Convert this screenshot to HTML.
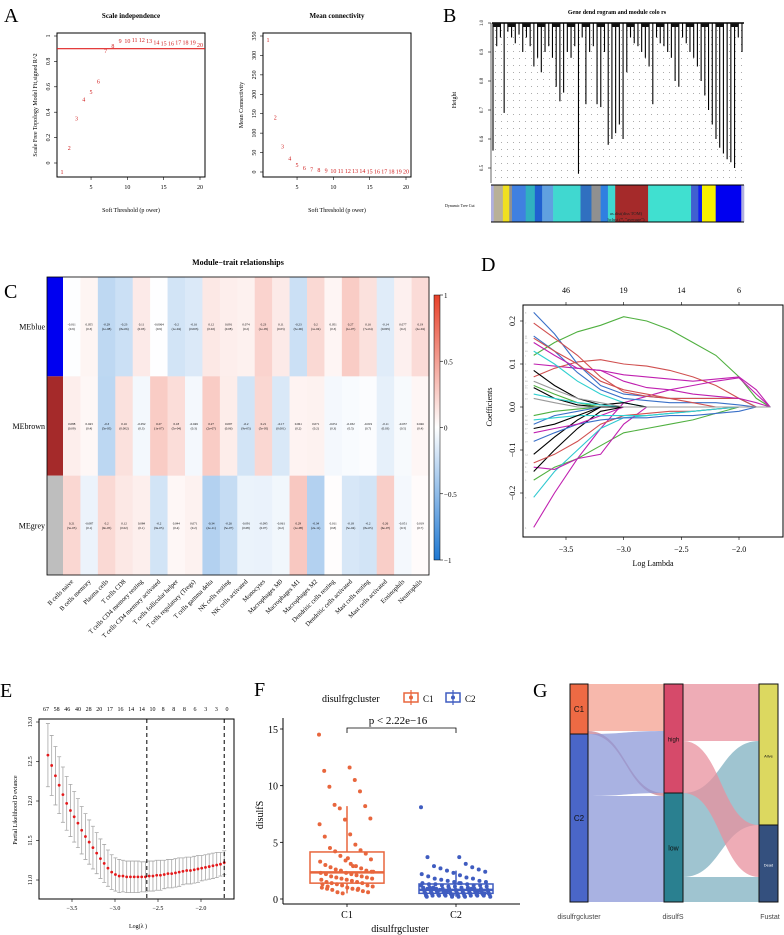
<!DOCTYPE html>
<html><head><meta charset="utf-8"><style>
body{margin:0;background:#fff;width:784px;height:935px;overflow:hidden}
svg{display:block;font-family:"Liberation Serif",serif}
.s{font-family:"Liberation Sans",sans-serif}
</style></head><body>
<svg id="fig" width="784" height="935" viewBox="0 0 784 935" xmlns="http://www.w3.org/2000/svg">
<defs>
<linearGradient id="cb" x1="0" y1="0" x2="0" y2="1">
<stop offset="0" stop-color="#e8412a"/><stop offset="0.5" stop-color="#ffffff"/><stop offset="1" stop-color="#1f78d2"/>
</linearGradient>
</defs>
<g id="A"></g>
<g id="B"></g>
<g id="C"></g>
<g id="D"></g>
<g id="E"></g>
<g id="F"></g>
<g id="G"></g>
</svg>
<script>
// ---- Panel A data
const powers=[1,2,3,4,5,6,7,8,9,10,11,12,13,14,15,16,17,18,19,20];
const r2Values=[-0.07,0.12,0.35,0.5,0.56,0.64,0.88,0.92,0.96,0.96,0.97,0.97,0.96,0.95,0.94,0.94,0.95,0.95,0.95,0.93];
const connValues=[340,140,65,35,18,10,7,5,4,3,2.5,2,2,2,1.5,1.5,1,1,1,1];
const r2Ticks=[0,0.2,0.4,0.6,0.8,1.0];
const connTicks=[0,50,100,150,200,250,300,350];
const powerTicks=[5,10,15,20];
// ---- Panel B data
const leafHeights=[0.56,0.92,0.95,0.69,0.97,0.95,0.93,0.96,0.9,0.95,0.92,0.85,0.88,0.83,0.9,0.92,0.88,0.78,0.73,0.76,0.9,0.88,0.92,0.48,0.95,0.72,0.9,0.92,0.72,0.71,0.9,0.58,0.6,0.62,0.65,0.6,0.83,0.95,0.93,0.92,0.9,0.88,0.85,0.72,0.95,0.93,0.92,0.9,0.88,0.8,0.78,0.95,0.93,0.9,0.88,0.85,0.8,0.75,0.7,0.65,0.6,0.57,0.55,0.53,0.52,0.5,0.95,0.9];
const moduleColors=["#b0b0e0","#b8b098","#f0e020","#909090","#4080e0","#30b0c0","#2060d0","#60a0e0","#40d8d0","#3070c0","#909090","#3080e0","#40d8d0","#a52a2a","#40e0d0","#4060d0","#1020f0","#f8f000","#0000f0","#b0b0e0"];
const moduleWidths=[3,10,7,3,15,10,8,12,30,12,10,8,8,36,47,8,4,15,28,3];
const heightTicks=[0.5,0.6,0.7,0.8,0.9,1.0];
// ---- Panel C data
const traits=["B cells naive","B cells memory","Plasma cells","T cells CD8","T cells CD4 memory resting","T cells CD4 memory activated","T cells follicular helper","T cells regulatory (Tregs)","T cells gamma delta","NK cells resting","NK cells activated","Monocytes","Macrophages M0","Macrophages M1","Macrophages M2","Dendritic cells resting","Dendritic cells activated","Mast cells resting","Mast cells activated","Eosinophils","Neutrophils"];
const modules=["MEblue","MEbrown","MEgrey"];
const moduleStrip=["#0000f0","#a52a2a","#bebebe"];
const corBlue=[-0.011,0.055,-0.29,-0.23,0.11,-0.0064,-0.2,-0.16,0.12,0.091,0.074,0.23,0.11,-0.23,0.2,0.051,0.27,0.16,-0.14,0.077,0.19];
const corBrown=[0.088,0.043,-0.3,0.16,-0.052,0.27,0.18,-0.049,0.27,0.097,-0.2,0.21,-0.17,0.061,0.071,-0.051,-0.032,-0.019,-0.11,-0.037,0.046];
const corGrey=[0.21,-0.087,0.2,0.12,0.084,-0.2,0.044,0.071,-0.34,-0.26,-0.091,-0.095,-0.061,0.29,-0.34,0.011,-0.18,-0.2,0.26,-0.051,0.019];
const pBlue=["0.9","0.3","1e-08","8e-06","0.03","0.9","1e-04","0.003","0.02","0.08","0.2","1e-05","0.03","5e-06","1e-04","0.3","1e-07","7e-04","0.005","0.2","2e-04"];
const pBrown=["0.09","0.4","5e-05","0.002","0.3","1e-07","5e-04","0.3","2e-07","0.06","9e-05","5e-05","0.001","0.2","0.2","0.3","0.5","0.7","0.03","0.5","0.4"];
const pGrey=["5e-05","0.1","9e-05","0.02","0.1","9e-05","0.4","0.2","2e-11","5e-07","0.08","0.07","0.2","1e-08","2e-11","0.8","5e-04","8e-05","6e-07","0.3","0.7"];
const cbTicks=[1,0.5,0,-0.5,-1];
// ---- Panel D data
const lambdaGrid=[-3.78,-3.6,-3.4,-3.2,-3.0,-2.8,-2.6,-2.4,-2.2,-2.0,-1.85,-1.73];
const coefSeries=[
[0.12,0.15,0.175,0.19,0.21,0.2,0.18,0.15,0.12,0.07,0.02,0],
[0.1,0.095,0.09,0.085,0.075,0.07,0.065,0.06,0.065,0.07,0.04,0],
[0.07,0.09,0.105,0.11,0.1,0.095,0.085,0.07,0.05,0.02,0,0],
[-0.28,-0.2,-0.12,-0.05,0.01,0.025,0.04,0.05,0.06,0.068,0.03,0],
[-0.17,-0.14,-0.12,-0.09,-0.06,-0.05,-0.04,-0.03,-0.015,0,0,0],
[0.22,0.17,0.1,0.05,0.03,0.025,0.02,0.02,0.02,0.02,0,0],
[0.195,0.16,0.12,0.07,0.035,0.025,0.02,0.02,0.02,0.02,0,0],
[-0.21,-0.15,-0.1,-0.05,-0.025,-0.02,-0.015,-0.01,-0.005,0,0,0],
[-0.14,-0.145,-0.12,-0.11,-0.04,0,0,0,0,0,0,0],
[0.13,0.1,0.06,0.03,0.01,0,0,0,0,0,0,0],
[0.165,0.13,0.08,0.04,0.02,0.015,0.01,0.01,0.01,0.005,0,0],
[0.085,0.05,0.02,0.005,0.01,0,0,0,0,0,0,0],
[-0.15,-0.1,-0.05,-0.01,0,0,0,0,0,0,0,0],
[-0.11,-0.07,-0.03,0,0,0,0,0,0,0,0,0],
[0.045,0.02,0.005,0,0,0,0,0,0,0,0,0],
[-0.13,-0.11,-0.08,-0.04,-0.02,-0.015,-0.01,-0.01,-0.005,0,0,0],
[0.05,0.03,0.01,0,0,0,0,0,0,0,0,0],
[0.15,0.12,0.09,0.085,0.06,0.045,0.04,0.03,0.025,0.02,0.01,0],
[-0.08,-0.06,-0.04,-0.03,-0.025,-0.025,-0.02,-0.02,-0.015,-0.01,0,0],
[0.03,0.02,0.01,0.005,0,0,0,0,0,0,0,0],
[0.16,0.13,0.1,0.06,0.04,0.03,0.02,0.01,0,0,0,0],
[-0.02,-0.01,-0.005,0,0,0,0,0,0,0,0,0],
[0.02,0.01,0,0,0,0,0,0,0,0,0,0],
[-0.04,-0.02,-0.01,0,0,0,0,0,0,0,0,0],
[-0.06,-0.05,-0.04,-0.02,0,0,0,0,0,0,0,0],
[-0.03,-0.025,-0.02,-0.02,-0.02,-0.02,-0.015,-0.01,-0.005,0,0,0],
[-0.05,-0.04,-0.02,0,0,0,0,0,0,0,0,0],
[0.06,0.04,0.02,0.01,0,0,0,0,0,0,0,0]];
const coefColors=["#50b040","#c020b0","#d05050","#c020b0","#50b040","#3a70c8","#d05050","#30c8d0","#c020b0","#30d0d0","#3a70c8","#000000","#000000","#000000","#000000","#d05050","#50b040","#c020b0","#3a70c8","#30d0d0","#d05050","#50b040","#9a9a9a","#3a70c8","#c020b0","#30d0d0","#000000","#9a9a9a"];
const dTopLabels=["46","19","14","6"];
const dTopPos=[-3.5,-3.0,-2.5,-2.0];
const dXTicks=[-3.5,-3.0,-2.5,-2.0];
const dYTicks=[0.2,0.1,0.0,-0.1,-0.2];
// ---- Panel E data
const eMean=[12.58,12.45,12.32,12.20,12.08,11.97,11.88,11.80,11.72,11.63,11.55,11.48,11.41,11.34,11.27,11.21,11.15,11.10,11.07,11.05,11.05,11.04,11.04,11.04,11.04,11.04,11.04,11.05,11.05,11.06,11.06,11.07,11.08,11.08,11.09,11.10,11.11,11.12,11.12,11.13,11.14,11.15,11.16,11.17,11.18,11.19,11.20,11.22];
const eSE=[0.40,0.38,0.37,0.36,0.35,0.34,0.33,0.32,0.31,0.30,0.29,0.28,0.27,0.26,0.25,0.24,0.23,0.22,0.21,0.21,0.20,0.20,0.20,0.20,0.20,0.19,0.19,0.19,0.19,0.19,0.19,0.18,0.18,0.18,0.18,0.18,0.17,0.17,0.17,0.17,0.17,0.16,0.16,0.16,0.16,0.16,0.15,0.15];
const eTopLabels=["67","58","46","40","28","20","17","16","14","14","10","8","8","8","6","3","3","0"];
const eXTicks=[-3.5,-3.0,-2.5,-2.0];
const eYTicks=[11.0,11.5,12.0,12.5,13.0];
const eLambdaMin=-2.63, eLambda1se=-1.73;
// ---- Panel F data
const c1Values=[14.5,11.6,11.3,10.5,9.9,9.5,8.3,8.2,8.0,7.1,7.0,6.6,5.7,5.5,4.8,4.5,4.3,4.2,4.0,3.8,3.5,3.4,3.3,3.1,3.0,2.9,2.8,2.7,2.6,2.5,2.5,2.4,2.3,2.3,2.2,2.2,2.1,2.0,2.0,1.9,1.9,1.8,1.8,1.7,1.7,1.6,1.5,1.5,1.4,1.4,1.3,1.2,1.2,1.1,1.0,1.0,0.9,0.9,0.8,0.8,0.7,0.6,0.6,0.5,2.4,3.6,1.3,2.9,1.1,0.9];
const c2Values=[8.1,3.7,3.7,3.1,2.9,2.8,2.7,2.6,2.5,2.4,2.3,2.2,2.1,2.0,1.9,1.8,1.8,1.7,1.6,1.6,1.5,1.5,1.4,1.4,1.3,1.3,1.3,1.2,1.2,1.2,1.1,1.1,1.1,1.0,1.0,1.0,1.0,0.9,0.9,0.9,0.9,0.9,0.8,0.8,0.8,0.8,0.8,0.8,0.7,0.7,0.7,0.7,0.7,0.7,0.7,0.6,0.6,0.6,0.6,0.6,0.6,0.6,0.5,0.5,0.5,0.5,0.5,0.5,0.5,0.5,0.4,0.4,0.4,0.4,0.4,0.4,0.4,0.3,0.3,0.3,0.3,0.3,0.3,0.3,0.3,0.2,0.2,0.2,0.2,0.2,1.0,0.9,0.8,0.7,0.6,0.5,0.4,1.2,1.4,0.9];
const fYTicks=[0,5,10,15];
const fGroups=["C1","C2"];
// ---- Panel G data
const gC1toHigh=47,gC1toLow=3,gC2toHigh=62,gC2toLow=106;
const gHighAlive=57,gHighDead=52,gLowAlive=84,gLowDead=25;

const NS="http://www.w3.org/2000/svg";
function el(parent,tag,attrs,text){const e=document.createElementNS(NS,tag);for(const k in attrs)e.setAttribute(k,attrs[k]);if(text!==undefined)e.textContent=text;parent.appendChild(e);return e;}
function lin(d0,d1,r0,r1){return v=>r0+(v-d0)*(r1-r0)/(d1-d0);}

// ================= Panel A
(function(){
const g=document.getElementById('A');
let t=el(g,'text',{x:4,y:22,'font-size':20},'A');


function panel(x0,x1,y0,y1,vals,ticks,title,ylab,line){
 const sx=lin(1,20,x0+5,x1-5);
 const sy2= ticks[ticks.length-1]===350?lin(0,350,172,36):lin(0,1,163,36);
 let tt=el(g,'text',{x:(x0+x1)/2,y:18,'font-size':7,'font-weight':'bold','text-anchor':'middle'},title);
 
 let b=el(g,'rect',{x:x0,y:y0,width:x1-x0,height:y1-y0,fill:'none',stroke:'#000','stroke-width':1});
 
 ticks.forEach(v=>{const y=sy2(v);el(g,'line',{x1:x0-3,x2:x0,y1:y,y2:y,stroke:'#000','stroke-width':0.6});
  let l=el(g,'text',{x:x0-7,y:y,'font-size':6,'text-anchor':'middle',transform:`rotate(-90 ${x0-7} ${y})`},String(v));
  });
 powerTicks.forEach(v=>{const x=sx(v);el(g,'line',{x1:x,x2:x,y1:y1,y2:y1+3,stroke:'#000','stroke-width':0.6});
  let l=el(g,'text',{x:x,y:y1+12,'font-size':6,'text-anchor':'middle'},String(v));
  });
 let xl=el(g,'text',{x:(x0+x1)/2,y:212,'font-size':6,'text-anchor':'middle'},'Soft Threshold (p  ower)');
 
 let yl=el(g,'text',{x:x0-20,y:(y0+y1)/2,'font-size':6,'text-anchor':'middle',transform:`rotate(-90 ${x0-20} ${(y0+y1)/2})`},ylab);
 
 if(line!==undefined){let rl=el(g,'line',{x1:x0,x2:x1,y1:sy2(line),y2:sy2(line),stroke:'#e02020','stroke-width':1.2});
  }
 vals.forEach((v,i)=>{let p=el(g,'text',{x:sx(powers[i]),y:sy2(v)+2,'font-size':6,fill:'#d02020','text-anchor':'middle'},String(powers[i]));
  });
}
panel(57,205,33,177,r2Values,r2Ticks,'Scale independence','Scale Free    Topology Model Fit,signed R^2',0.9);
panel(263,411,33,177,connValues,connTicks,'Mean connectivity','Mean Connectivity');
})();

// ================= Panel B
(function(){
const g=document.getElementById('B');
let t=el(g,'text',{x:443,y:22,'font-size':20},'B');

let tt=el(g,'text',{x:617,y:14,'font-size':6,'font-weight':'bold','text-anchor':'middle'},'Gene dend  rogram and module colo      rs');

const x0=491,x1=744,sy=lin(0.5,1.0,168,23);
for(let y=30;y<182;y+=7)for(let x=495;x<742;x+=6)el(g,'rect',{x:x,y:y,width:0.7,height:0.7,fill:'#555'});
el(g,'line',{x1:x0,x2:x0,y1:23,y2:183,stroke:'#000','stroke-width':0.6});
heightTicks.forEach(v=>{const y=sy(v);el(g,'line',{x1:x0-3,x2:x0,y1:y,y2:y,stroke:'#000','stroke-width':0.6});
 let l=el(g,'text',{x:x0-8,y:y,'font-size':5,'text-anchor':'middle',transform:`rotate(-90 ${x0-8} ${y})`},v.toFixed(1));
 });
let yl=el(g,'text',{x:456,y:100,'font-size':6,'text-anchor':'middle',transform:'rotate(-90 456 100)'},'Height');

el(g,'line',{x1:x0+1,x2:x1,y1:23,y2:23,stroke:'#000','stroke-width':1.5});
const n=leafHeights.length;
leafHeights.forEach((h,i)=>{const x=x0+2+i*(x1-x0-4)/(n-1);
 let l=el(g,'line',{x1:x,x2:x,y1:23,y2:sy(h),stroke:'#000','stroke-width':1.1});
 });
for(let i=0;i<n-1;i+=4){const xa=x0+2+i*(x1-x0-4)/(n-1),xb=x0+2+(i+2)*(x1-x0-4)/(n-1);
 el(g,'rect',{x:xa,y:23,width:xb-xa,height:4,fill:'#111'});}
const tot=moduleWidths.reduce((a,b)=>a+b,0);let cx=x0;
moduleWidths.forEach((w,i)=>{const ww=w/tot*(x1-x0);let r=el(g,'rect',{x:cx,y:185,width:ww+0.3,height:37,fill:moduleColors[i]});
 cx+=ww;});
el(g,'line',{x1:x0,x2:x1,y1:185,y2:185,stroke:'#000','stroke-width':1});
el(g,'line',{x1:x0,x2:x1,y1:222,y2:222,stroke:'#000','stroke-width':1});
let dl=el(g,'text',{x:445,y:207,'font-size':4},'Dynamic  Tree Cut');

el(g,'text',{x:626,y:215,'font-size':4.5,'text-anchor':'middle',fill:'#222'},'as.dist(diss TOM)');
el(g,'text',{x:626,y:221,'font-size':4.5,'text-anchor':'middle',fill:'#222'},'hclust (*, "average")');
})();

// ================= Panel C
(function(){
const g=document.getElementById('C');
let t=el(g,'text',{x:4,y:298,'font-size':20},'C');

let tt=el(g,'text',{x:238,y:265,'font-size':8,'font-weight':'bold','text-anchor':'middle'},'Module−trait relationships');

const hx0=63,hx1=429,hy0=277,hy1=575,nc=traits.length,cw=(hx1-hx0)/nc,rh=(hy1-hy0)/3;
const rows=[corBlue,corBrown,corGrey],ps=[pBlue,pBrown,pGrey];
function col(v){if(v>=0)return `rgb(${255+(232-255)*v},${255+(65-255)*v},${255+(42-255)*v})`;const a=-v;return `rgb(${255+(31-255)*a},${255+(120-255)*a},${255+(210-255)*a})`;}
rows.forEach((r,ri)=>{
 let s=el(g,'rect',{x:47,y:hy0+ri*rh,width:16,height:rh,fill:moduleStrip[ri]});
 
 let ml=el(g,'text',{x:45,y:hy0+ri*rh+rh/2+3,'font-size':8,'text-anchor':'end'},modules[ri]);
 
 r.forEach((v,ci)=>{const x=hx0+ci*cw,y=hy0+ri*rh;
  let c=el(g,'rect',{x:x,y:y,width:cw+0.3,height:rh+0.3,fill:col(v)});
  
  el(g,'text',{x:x+cw/2,y:y+rh/2-1,'font-size':3.2,'text-anchor':'middle'},String(v));
  el(g,'text',{x:x+cw/2,y:y+rh/2+3.5,'font-size':3.2,'text-anchor':'middle'},'('+ps[ri][ci]+')');
 });});
el(g,'rect',{x:47,y:hy0,width:hx1-47,height:hy1-hy0,fill:'none',stroke:'#000','stroke-width':0.8});
traits.forEach((n,ci)=>{const x=hx0+ci*cw+cw/2+2,y=582;
 let l=el(g,'text',{x:x,y:y,'font-size':6.5,'text-anchor':'end',transform:`rotate(-45 ${x} ${y})`},n);
 });
let cb=el(g,'rect',{x:434,y:295,width:6,height:265,fill:'url(#cb)',stroke:'#000','stroke-width':0.5});

const cs=lin(1,-1,295,560);
cbTicks.forEach(v=>{const y=cs(v);el(g,'line',{x1:440,x2:443,y1:y,y2:y,stroke:'#000','stroke-width':0.6});
 let l=el(g,'text',{x:444,y:y+3,'font-size':7},v<0?'−'+(-v):String(v));
 });
})();

// ================= Panel D
(function(){
const g=document.getElementById('D');
let t=el(g,'text',{x:481,y:271,'font-size':20},'D');

const x0=523,x1=783,y0=305,y1=537,sx=lin(-3.5,-2.0,566,739),sy=lin(0,0.2,407,321);
coefSeries.forEach((s,i)=>{const d=s.map((v,j)=>(j?'L':'M')+sx(lambdaGrid[j]).toFixed(1)+' '+sy(v).toFixed(1)).join(' ');
 let p=el(g,'path',{d:d,fill:'none',stroke:coefColors[i],'stroke-width':1.1});
 
 el(g,'text',{x:x0+2,y:sy(s[0])+1,'font-size':2.5,fill:'#888'},String(i+1));});
let fr=el(g,'rect',{x:x0,y:y0,width:x1-x0,height:y1-y0,fill:'none',stroke:'#000','stroke-width':1});

dXTicks.forEach(v=>{const x=sx(v);el(g,'line',{x1:x,x2:x,y1:y1,y2:y1+3,stroke:'#000','stroke-width':0.6});
 let l=el(g,'text',{x:x,y:y1+15,'font-size':8,'text-anchor':'middle'},'−'+(-v).toFixed(1));
 });
dTopLabels.forEach((s,i)=>{const x=sx(dTopPos[i]);el(g,'line',{x1:x,x2:x,y1:y0,y2:y0-3,stroke:'#000','stroke-width':0.6});
 let l=el(g,'text',{x:x,y:y0-12,'font-size':8,'text-anchor':'middle'},s);
 });
dYTicks.forEach(v=>{const y=sy(v);el(g,'line',{x1:x0,x2:x0-3,y1:y,y2:y,stroke:'#000','stroke-width':0.6});
 let l=el(g,'text',{x:x0-8,y:y,'font-size':8,'text-anchor':'middle',transform:`rotate(-90 ${x0-8} ${y})`},(v<0?'−':'')+Math.abs(v).toFixed(1));
 });
let xl=el(g,'text',{x:653,y:566,'font-size':8,'text-anchor':'middle'},'Log Lambda');

let yl=el(g,'text',{x:492,y:407,'font-size':8,'text-anchor':'middle',transform:'rotate(-90 492 407)'},'Coefficients');

})();

// ================= Panel E
(function(){
const g=document.getElementById('E');
let t=el(g,'text',{x:0,y:697,'font-size':20},'E');

const x0=39,x1=234,y0=719,y1=899,sx=lin(-3.5,-2.0,72,201),sy=lin(11,13,880,722);
const n=eMean.length,lx=i=>-3.78+i*(-1.73+3.78)/(n-1);
eMean.forEach((m,i)=>{const x=sx(lx(i)),ya=sy(m+eSE[i]),yb=sy(m-eSE[i]);
 let w=el(g,'path',{d:`M${x} ${ya}V${yb}M${x-2} ${ya}H${x+2}M${x-2} ${yb}H${x+2}`,stroke:'#a8a8a8','stroke-width':0.8,fill:'none'});
 
 let c=el(g,'circle',{cx:x,cy:sy(m),r:1.4,fill:'#e41a1c'});
 });
[eLambdaMin,eLambda1se].forEach(v=>{let l=el(g,'line',{x1:sx(v),x2:sx(v),y1:y0,y2:y1,stroke:'#000','stroke-width':1,'stroke-dasharray':'4,3'});
 });
let fr=el(g,'rect',{x:x0,y:y0,width:x1-x0,height:y1-y0,fill:'none',stroke:'#000','stroke-width':1});

eXTicks.forEach(v=>{const x=sx(v);el(g,'line',{x1:x,x2:x,y1:y1,y2:y1+3,stroke:'#000','stroke-width':0.6});
 let l=el(g,'text',{x:x,y:y1+11,'font-size':6,'text-anchor':'middle'},'−'+(-v).toFixed(1));
 });
eYTicks.forEach(v=>{const y=sy(v);el(g,'line',{x1:x0,x2:x0-3,y1:y,y2:y,stroke:'#000','stroke-width':0.6});
 let l=el(g,'text',{x:x0-7,y:y,'font-size':6,'text-anchor':'middle',transform:`rotate(-90 ${x0-7} ${y})`},v.toFixed(1));
 });
eTopLabels.forEach((s,i)=>{const x=46+i*(227-46)/(eTopLabels.length-1);
 let l=el(g,'text',{x:x,y:711,'font-size':6,'text-anchor':'middle'},s);
 });
let xl=el(g,'text',{x:138,y:928,'font-size':6,'text-anchor':'middle'},'Log(λ  )');

let yl=el(g,'text',{x:17,y:810,'font-size':6,'text-anchor':'middle',transform:'rotate(-90 17 810)'},'Partial Likelihood D eviance');

})();

// ================= Panel F
(function(){
const g=document.getElementById('F');
let t=el(g,'text',{x:254,y:696,'font-size':20},'F');

const ax=283,sy=lin(0,15,899,729),cxs=[347,456],cols=['#e8663d','#3f5cc0'],data=[c1Values,c2Values];
el(g,'line',{x1:ax,x2:ax,y1:718,y2:904,stroke:'#000','stroke-width':1});
el(g,'line',{x1:ax,x2:520,y1:904,y2:904,stroke:'#000','stroke-width':1});
fYTicks.forEach(v=>{const y=sy(v);el(g,'line',{x1:ax,x2:ax-3,y1:y,y2:y,stroke:'#000','stroke-width':0.8});
 let l=el(g,'text',{x:ax-5,y:y+4,'font-size':10,'text-anchor':'end'},String(v));
 });
function q(a,p){const s=[...a].sort((x,y)=>x-y),i=(s.length-1)*p,lo=Math.floor(i);return s[lo]+(s[Math.ceil(i)]-s[lo])*(i-lo);}
data.forEach((d,gi)=>{const cx=cxs[gi],c=cols[gi];
 const q1=q(d,0.25),md=q(d,0.5),q3=q(d,0.75),iqr=q3-q1;
 const hi=Math.max(...d.filter(v=>v<=q3+1.5*iqr)),lo=Math.min(...d.filter(v=>v>=q1-1.5*iqr));
 let wk=el(g,'path',{d:`M${cx} ${sy(q3)}V${sy(hi)}M${cx} ${sy(q1)}V${sy(lo)}`,stroke:c,'stroke-width':1.5});
 
 let bx=el(g,'rect',{x:cx-37,y:sy(q3),width:74,height:sy(q1)-sy(q3),fill:'#fff',stroke:c,'stroke-width':1.5});
 
 let mdl=el(g,'line',{x1:cx-37,x2:cx+37,y1:sy(md),y2:sy(md),stroke:c,'stroke-width':2.5});
 
 d.forEach((v,i)=>{const jx=((i*53)%97/97-0.5)*(gi?70:56);
  let p=el(g,'circle',{cx:cx+jx,cy:sy(v),r:2,fill:c});
  });
 el(g,'line',{x1:cx,x2:cx,y1:904,y2:907,stroke:'#000','stroke-width':0.8});
 let xl=el(g,'text',{x:cx,y:918,'font-size':10,'text-anchor':'middle'},fGroups[gi]);
 });
let xt=el(g,'text',{x:400,y:932,'font-size':10,'text-anchor':'middle'},'disulfrgcluster');

let yt=el(g,'text',{x:263,y:815,'font-size':10,'text-anchor':'middle',transform:'rotate(-90 263 815)'},'disulfS');

el(g,'path',{d:`M347 733V728H456V733`,fill:'none',stroke:'#000','stroke-width':0.8});
let pt=el(g,'text',{x:398,y:724,'font-size':11,'text-anchor':'middle'},'p < 2.22e−16');

let lt=el(g,'text',{x:322,y:702,'font-size':10},'disulfrgcluster');

[[404,'C1',cols[0]],[446,'C2',cols[1]]].forEach(([x,s,c])=>{
 let lg=el(g,'g',{});
 el(lg,'rect',{x:x,y:693,width:14,height:9,fill:'#fff',stroke:c,'stroke-width':1.5});
 el(lg,'line',{x1:x+7,x2:x+7,y1:690,y2:705,stroke:c,'stroke-width':1.2});
 el(lg,'circle',{cx:x+7,cy:697.5,r:2,fill:c});
 el(lg,'text',{x:x+19,y:702,'font-size':9},s);});
})();

// ================= Panel G
(function(){
const g=document.getElementById('G');
let t=el(g,'text',{x:533,y:697,'font-size':20},'G');

const top=684,L0=570,L1=588,M0=664,M1=683,R0=759,R1=778;
function band(xa,ya0,ya1,xb,yb0,yb1,fill,name){const m=(xa+xb)/2;
 let p=el(g,'path',{d:`M${xa} ${ya0}C${m} ${ya0} ${m} ${yb0} ${xb} ${yb0}L${xb} ${yb1}C${m} ${yb1} ${m} ${ya1} ${xa} ${ya1}Z`,fill:fill,'fill-opacity':0.75});
 }
const c1=gC1toHigh+gC1toLow,c2=gC2toHigh+gC2toLow,hi=gC1toHigh+gC2toHigh,lo=gC1toLow+gC2toLow;
const alive=gHighAlive+gLowAlive,dead=gHighDead+gLowDead;
band(L1,top,top+gC1toHigh,M0,top,top+gC1toHigh,'#f4a090','flow-c1-high');
band(L1,top+gC1toHigh,top+c1,M0,top+hi,top+hi+gC1toLow,'#c88090','flow-c1-low');
band(L1,top+c1,top+c1+gC2toHigh,M0,top+gC1toHigh,top+hi,'#8c98d8','flow-c2-high');
band(L1,top+c1+gC2toHigh,top+c1+c2,M0,top+hi+gC1toLow,top+hi+lo,'#8c98d8','flow-c2-low');
band(M1,top,top+gHighAlive,R0,top,top+gHighAlive,'#e8909e','flow-high-alive');
band(M1,top+hi,top+hi+gLowAlive,R0,top+gHighAlive,top+alive,'#7fb0c0','flow-low-alive');
band(M1,top+gHighAlive,top+hi,R0,top+alive,top+alive+gHighDead,'#e8909e','flow-high-dead');
band(M1,top+hi+gLowAlive,top+hi+lo,R0,top+alive+gHighDead,top+alive+dead,'#7fb0c0','flow-low-dead');
function node(x0,x1,y,h,fill,label,name,fs,fc){let r=el(g,'rect',{x:x0,y:y,width:x1-x0,height:h,fill:fill,stroke:'#111','stroke-width':1});
 
 let tx=el(g,'text',{x:(x0+x1)/2,y:y+h/2+3,'font-size':fs,'text-anchor':'middle',fill:fc||'#111',class:'s'},label);
 }
node(L0,L1,top,c1,'#ee6a44','C1','node-c1',8);
node(L0,L1,top+c1,c2,'#4a66c8','C2','node-c2',8);
node(M0,M1,top,hi,'#d64a6a','high','node-high',6);
node(M0,M1,top+hi,lo,'#2a8090','low','node-low',7);
node(R0,R1,top,alive,'#dcd860','Alive','node-alive',4);
node(R0,R1,top+alive,dead,'#34507e','Dead','node-dead',4,'#fff');
[['disulfrgcluster',579],['disulfS',673],['Fustat',770]].forEach(([s,x])=>{
 let l=el(g,'text',{x:x,y:919,'font-size':7,'text-anchor':'middle',fill:'#444',class:'s'},s);
 });
})();
</script>
</body></html>
